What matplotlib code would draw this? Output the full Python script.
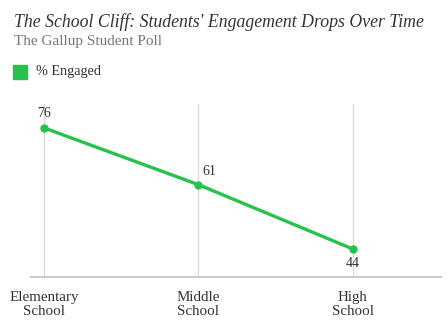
import matplotlib.pyplot as plt

# Gallup Student Poll: share of engaged students by school level
levels = ["Elementary\nSchool", "Middle\nSchool", "High\nSchool"]
engaged = [76, 61, 44]

green = "#27c24c"
serif = ["Liberation Serif", "DejaVu Serif"]

fig = plt.figure(figsize=(4.48, 3.24), dpi=100)
ax = fig.add_axes([0.069, 0.145, 0.915, 0.534])

x = list(range(len(levels)))
ax.plot(x, engaged, color=green, lw=2.4, marker="o", ms=5, solid_capstyle="round")

# value labels
offsets = [(0, 6, "center", "bottom"), (3, 5, "left", "bottom"), (0, -6, "center", "top")]
for xi, v, (dx, dy, ha, va) in zip(x, engaged, offsets):
    ax.annotate(str(v), (xi, v), xytext=(dx, dy), textcoords="offset points",
                ha=ha, va=va, fontsize=10, color="#333333", family=serif)

ax.set_xlim(-0.084, 2.57)
ax.set_ylim(36.6, 82.3)
ax.set_xticks(x)
ax.set_xticklabels(levels, family=serif, fontsize=10.8, color="#333333", linespacing=1.15)
ax.tick_params(axis="x", length=0, pad=10)
ax.set_yticks([])
ax.grid(axis="x", color="#d9d9d9", lw=0.9)
ax.set_axisbelow(True)
for s in ["top", "right", "left"]:
    ax.spines[s].set_visible(False)
ax.spines["bottom"].set_color("#cccccc")
ax.spines["bottom"].set_linewidth(1.5)

fig.text(14/448, 1 - 22/324, "The School Cliff: Students' Engagement Drops Over Time",
         family=serif, style="italic", fontsize=12.8, color="#333333", va="center")
fig.text(14/448, 1 - 42/324, "The Gallup Student Poll",
         family=serif, fontsize=11, color="#777777", va="center")
fig.patches.append(plt.Rectangle((13/448, 1 - 79/324), 14/448, 14/324,
                                 transform=fig.transFigure, color=green))
fig.text(36/448, 1 - 72/324, "% Engaged", family=serif, fontsize=10.2,
         color="#333333", va="center")

fig.savefig("out.png", dpi=100)
